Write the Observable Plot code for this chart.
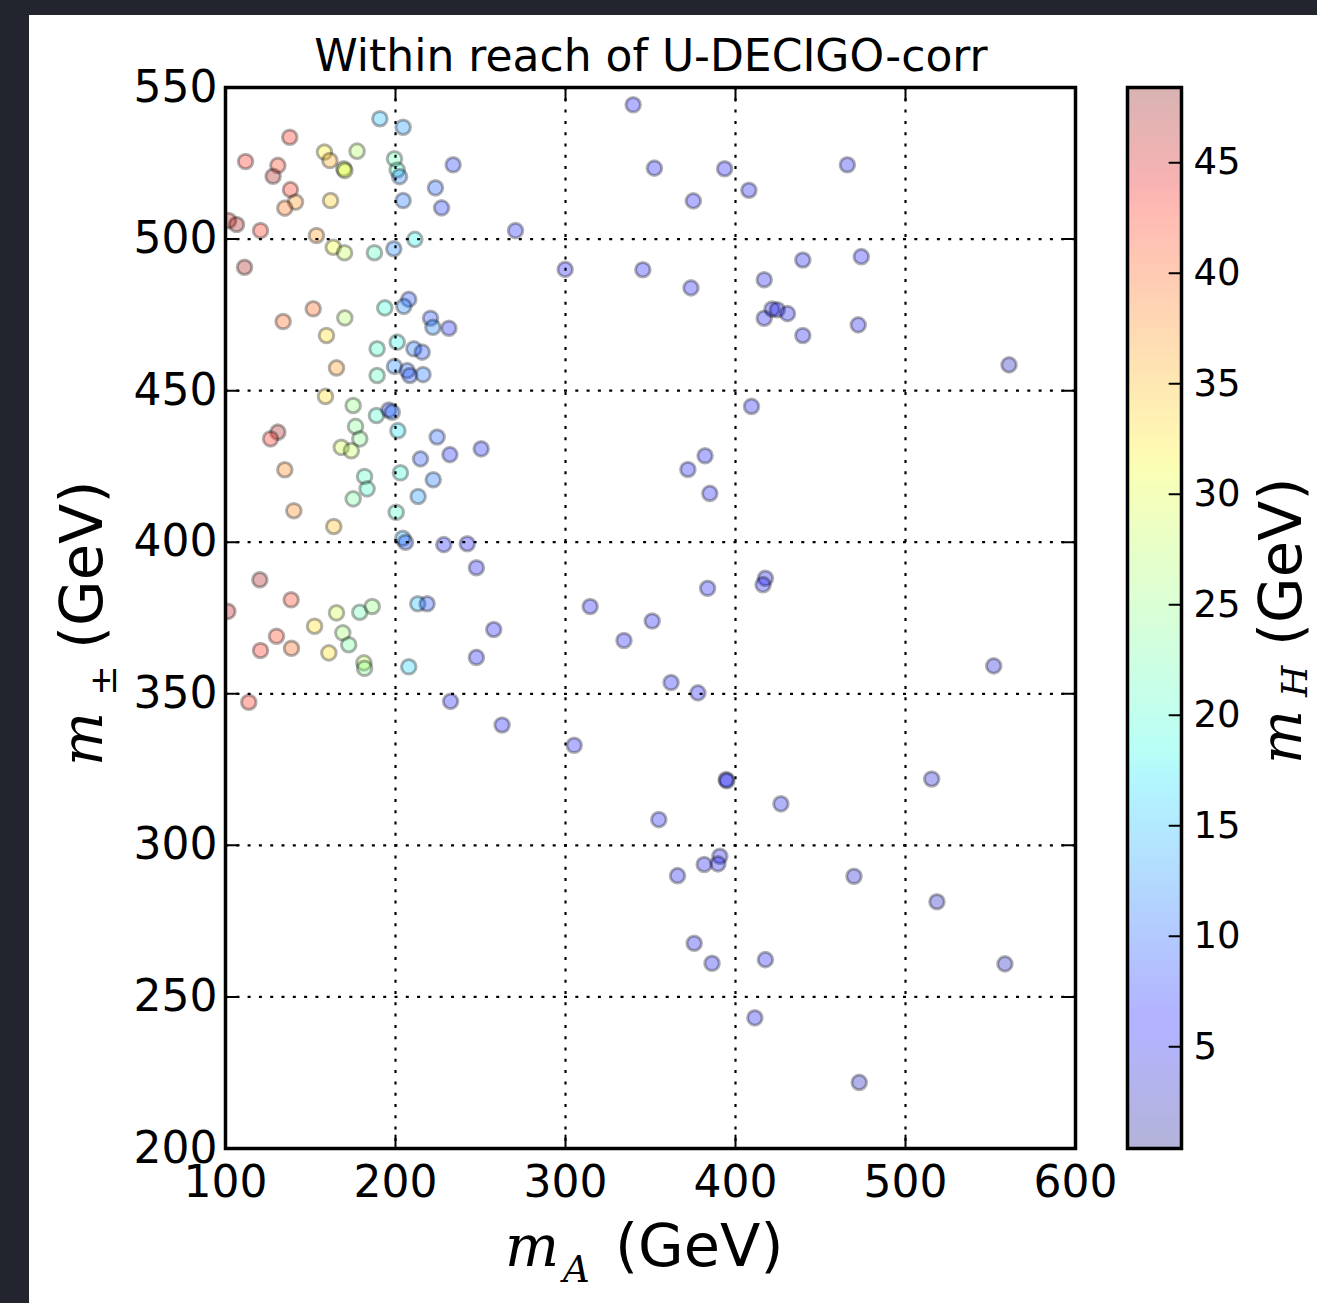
<!DOCTYPE html>
<html><head><meta charset="utf-8">
<script src="https://cdn.jsdelivr.net/npm/d3@7"></script>
<script src="https://cdn.jsdelivr.net/npm/@observablehq/plot@0.6"></script>
<style>
html,body{margin:0;padding:0;background:#22252d;}
#page{position:relative;width:1317px;height:1303px;overflow:hidden;}
#panel{position:absolute;left:29px;top:15px;width:1288px;height:1288px;background:#fff;}
#main{position:absolute;left:29px;top:15px;}
#cbar{position:absolute;left:1122px;top:15px;}
#labels{position:absolute;left:0;top:0;}
</style></head><body>
<div id="page"><div id="panel"></div><div id="main"></div><div id="cbar"></div>
<svg id="labels" width="1317" height="1303" font-family="DejaVu Sans" fill="black">
<text x="651" y="71" text-anchor="middle" font-size="44">Within reach of U-DECIGO-corr</text>
<text y="1266" font-size="59"><tspan x="505" font-family="DejaVu Serif" font-style="italic" font-size="57">m</tspan><tspan x="563" y="1282" font-family="DejaVu Serif" font-style="italic" font-size="37">A</tspan><tspan x="615" y="1266">(GeV)</tspan></text>
<g transform="translate(102,0) rotate(-90)"><text y="0" font-size="59"><tspan x="-766" font-family="DejaVu Serif" font-style="italic" font-size="57">m</tspan><tspan x="-696" y="14" font-family="DejaVu Serif" font-style="italic" font-size="37">±</tspan><tspan x="-649" y="0">(GeV)</tspan></text></g>
<g transform="translate(1301,0) rotate(-90)"><text y="0" font-size="59"><tspan x="-764" font-family="DejaVu Serif" font-style="italic" font-size="57">m</tspan><tspan x="-697" y="6" font-family="DejaVu Serif" font-style="italic" font-size="36">H</tspan><tspan x="-646" y="0">(GeV)</tspan></text></g>
</svg></div>
<script>
// m_A (GeV)
const mA = [190.8,204.5,137.8,158.2,177.4,111.8,130.8,161.4,169.6,170.2,199.4,201.0,202.4,128.0,233.9,223.5,138.2,141.2,134.9,161.8,204.5,227.1,101.9,106.5,120.6,270.6,153.5,163.4,170.0,187.6,199.0,211.4,111.2,207.8,204.9,151.6,170.2,193.7,133.9,220.6,222.0,231.4,159.4,189.2,201.0,210.8,215.7,165.3,199.4,189.2,206.9,208.4,216.2,
158.8,175.1,188.8,196.1,198.1,201.4,130.8,126.5,176.5,179.0,168.1,174.0,224.5,232.0,250.4,214.7,134.9,202.9,181.8,222.2,183.3,175.1,213.3,140.2,200.4,163.7,204.3,205.9,228.4,242.2,247.6,120.2,138.6,101.4,165.3,179.0,186.3,213.1,218.6,152.4,169.0,130.0,172.5,120.6,138.8,160.8,181.4,181.8,207.8,257.8,247.6,113.7,232.4,262.7,
339.8,352.3,393.6,465.8,375.2,407.9,299.8,345.5,373.8,439.6,474.0,416.9,416.9,421.5,424.6,430.6,439.6,472.2,560.9,
409.4,382.1,372.0,384.9,417.6,416.2,383.6,314.5,351.0,334.4,362.1,377.9,551.9,305.1,
394.5,394.9,426.7,515.4,354.9,390.8,389.7,381.6,365.9,469.7,518.5,375.7,386.2,417.6,558.5,411.4,472.8];
// m_± (GeV)
const mPM = [539.7,536.9,533.6,528.7,529.0,525.6,524.3,525.9,523.2,522.6,526.5,522.8,520.6,520.7,524.5,516.9,516.3,512.2,510.2,512.7,512.7,510.3,506.1,504.8,502.8,502.8,501.2,497.3,495.5,495.5,496.8,499.9,490.7,480.1,477.8,477.0,474.0,477.3,472.8,473.9,470.9,470.6,468.2,463.8,466.0,463.8,462.7,457.5,458.0,455.0,456.6,455.0,455.3,
448.1,445.1,441.8,443.6,442.9,436.8,436.3,434.1,438.2,434.1,431.3,430.2,434.7,428.9,430.8,427.5,423.9,422.9,421.7,420.6,417.6,414.3,415.1,410.4,409.9,405.2,401.3,400.0,399.2,399.5,391.6,387.6,381.0,377.2,376.7,376.9,378.8,379.7,379.7,372.3,370.1,369.0,366.2,364.3,365.0,363.5,360.2,358.4,358.9,371.2,362.0,347.2,347.5,339.7,
544.3,523.4,523.2,524.5,512.6,516.1,490.0,489.9,483.9,493.1,494.2,486.6,473.9,476.9,476.7,475.4,468.2,471.7,458.5,
444.8,428.5,424.0,416.1,388.1,386.0,384.8,378.8,374.0,367.6,353.7,350.3,359.2,333.0,
321.7,321.3,313.7,321.9,308.5,296.4,293.9,293.7,290.0,289.8,281.4,267.7,261.1,262.3,260.9,243.1,221.8];
// m_H (GeV), colour
const mH = [15,13,43,32,27,43,42,36,28,31,22,20,12,47,8,10,43,37,39,34,11,8,45,47,43,7,37,31,28,21,12,18,47,9,12,40,27,19,40,9,12,7,33,20,18,11,9,37,12,21,10,9,11,
33,25,20,8,11,17,47,43,24,24,29,28,10,7,7,9,38,19,21,11,20,23,13,38,20,35,14,9,7,6,6,47,42,46,29,22,25,15,9,33,26,42,23,43,40,33,28,24,16,6,6,43,6,6,
6,6,6,5,6,5,6,6,6,5,6,5,5,5,5,5,5,5,3,
6,6,6,6,5,5,6,6,6,6,6,6,4,6,
5,5,5,4,6,5,5,5,5,4,3,5,5,5,3,5,3];

const xTicks = [100,200,300,400,500,600];
const yTicks = [200,250,300,350,400,450,500,550];
const xGrid = [200,300,400,500];
const yGrid = [250,300,350,400,450,500];
const cbTicks = [5,10,15,20,25,30,35,40,45];
const cbDomain = [0.4, 48.4];

function jet(t){
  t = Math.max(0, Math.min(1, t));
  const seg = pts => {
    for (let i = 1; i < pts.length; i++) if (t <= pts[i][0]) {
      const [x0,y0] = pts[i-1], [x1,y1] = pts[i];
      return y0 + (y1-y0)*(t-x0)/(x1-x0);
    }
    return pts[pts.length-1][1];
  };
  const r = seg([[0,0],[0.35,0],[0.66,1],[0.89,1],[1,0.5]]);
  const g = seg([[0,0],[0.125,0],[0.375,1],[0.64,1],[0.91,0],[1,0]]);
  const b = seg([[0,0.5],[0.11,1],[0.34,1],[0.65,0],[1,0]]);
  return d3.rgb(r*255, g*255, b*255).formatHex();
}

const data = mA.map((x,i) => ({mA: x, mPM: mPM[i], mH: mH[i]}));
const tickShape = {draw(ctx, l){ ctx.moveTo(0,0); ctx.lineTo(0,-l); }};
const tk = {shape: tickShape, anchor: "start", stroke: "black", strokeWidth: 2, length: 13};

const main = Plot.plot({
  width: 1288, height: 1288,
  marginLeft: 196, marginRight: 242, marginTop: 72, marginBottom: 155,
  style: {background: "transparent", fontFamily: "DejaVu Sans", color: "black"},
  x: {domain: [100, 600]},
  y: {domain: [200, 550]},
  color: {type: "linear", domain: cbDomain, interpolate: jet},
  marks: [
    Plot.dot(data, {x: "mA", y: "mPM", fill: "mH", r: 7.3, fillOpacity: 0.3, stroke: "black", strokeOpacity: 0.3, strokeWidth: 3, clip: true}),
    Plot.gridX(xGrid, {stroke: "black", strokeOpacity: 1, strokeWidth: 2.2, strokeDasharray: "3,8.3"}),
    Plot.gridY(yGrid, {stroke: "black", strokeOpacity: 1, strokeWidth: 2.2, strokeDasharray: "3,8.3"}),
    Plot.frame({stroke: "black", strokeWidth: 3.5}),
    Plot.vector(xTicks, {x: d => d, frameAnchor: "bottom", rotate: 0, ...tk}),
    Plot.vector(xTicks, {x: d => d, frameAnchor: "top", rotate: 180, ...tk}),
    Plot.vector(yTicks, {y: d => d, frameAnchor: "left", rotate: 90, ...tk}),
    Plot.vector(yTicks, {y: d => d, frameAnchor: "right", rotate: -90, ...tk}),
    Plot.axisX(xTicks, {tickSize: 0, tickPadding: 17, fontSize: 44, label: null}),
    Plot.axisY(yTicks, {tickSize: 0, tickPadding: 8, fontSize: 44, label: null})
  ]
});
document.getElementById("main").appendChild(main);

const cbar = Plot.plot({
  width: 195, height: 1288,
  marginLeft: 5, marginRight: 136, marginTop: 72, marginBottom: 155,
  style: {background: "transparent", fontFamily: "DejaVu Sans", color: "black"},
  x: {domain: [0, 1], axis: null},
  y: {domain: cbDomain},
  color: {type: "linear", domain: cbDomain, interpolate: jet},
  marks: [
    Plot.raster({fill: (x, y) => y, fillOpacity: 0.3, x1: 0, x2: 1, y1: cbDomain[0], y2: cbDomain[1], width: 1, height: 480}),
    Plot.frame({stroke: "black", strokeWidth: 3.5}),
    Plot.vector(cbTicks, {y: d => d, frameAnchor: "right", rotate: -90, shape: tickShape, anchor: "start", stroke: "black", strokeWidth: 2, length: 12}),
    Plot.axisY(cbTicks, {anchor: "right", tickSize: 0, tickPadding: 12, fontSize: 37, label: null})
  ]
});
document.getElementById("cbar").appendChild(cbar);
</script>
</body></html>
